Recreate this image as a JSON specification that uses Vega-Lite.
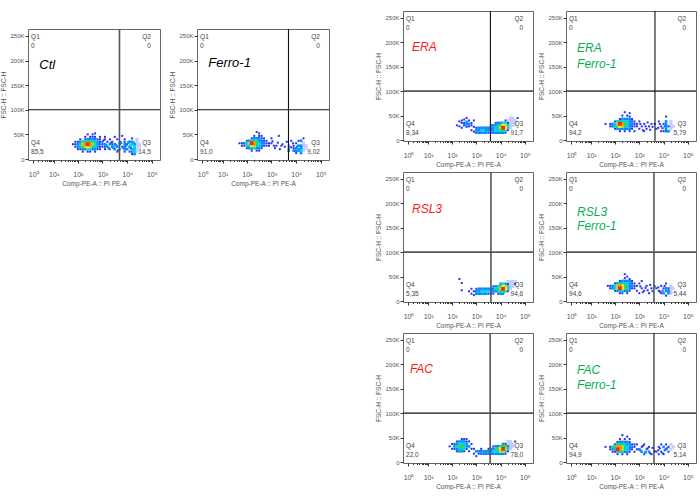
{"$schema":"https://vega.github.io/schema/vega-lite/v6.json","padding":{"left":0,"top":9,"right":0,"bottom":0},"background":"white","spacing":44,
"config":{"view":{"stroke":"#666","strokeWidth":1},"legend":{"disable":true},"axis":{"grid":false,"labelFont":"Liberation Sans","titleFont":"Liberation Sans","labelFontSize":6,"titleFontSize":6.5,"titleFontWeight":"normal","labelColor":"#555","titleColor":"#555","domain":false,"tickColor":"#333","labelOverlap":false,"labelBound":false,"labelFlush":false},"axisX":{"labelPadding":7,"titlePadding":3,"labelFontSize":7},"axisY":{"tickSize":3,"labelPadding":1,"titlePadding":3},"text":{"font":"Liberation Sans","fontSize":6.5,"color":"#444"},"square":{"filled":true,"opacity":1,"size":7},"rule":{"color":"#111","strokeWidth":1.1}},
"datasets":{
"ctl":[{"x":251,"y":50,"d":1},{"x":398,"y":50,"d":1},{"x":501,"y":52,"d":1},{"x":200,"y":45,"d":1},{"x":316,"y":45,"d":1},{"x":398,"y":45,"d":1},{"x":501,"y":45,"d":1},{"x":794,"y":45,"d":1},{"x":126,"y":40,"d":1},{"x":200,"y":40,"d":1},{"x":251,"y":40,"d":2},{"x":316,"y":40,"d":2},{"x":398,"y":40,"d":2},{"x":501,"y":40,"d":2},{"x":631,"y":40,"d":1},{"x":794,"y":40,"d":1},{"x":79,"y":35,"d":1},{"x":100,"y":35,"d":1},{"x":126,"y":35,"d":2},{"x":158,"y":35,"d":3},{"x":200,"y":35,"d":4},{"x":251,"y":35,"d":5},{"x":316,"y":35,"d":5},{"x":398,"y":35,"d":4},{"x":501,"y":35,"d":3},{"x":631,"y":35,"d":2},{"x":794,"y":35,"d":1},{"x":1000,"y":35,"d":1},{"x":63,"y":30,"d":1},{"x":79,"y":30,"d":1},{"x":100,"y":30,"d":2},{"x":126,"y":30,"d":4},{"x":158,"y":30,"d":6},{"x":200,"y":30,"d":8},{"x":251,"y":30,"d":9},{"x":316,"y":30,"d":8},{"x":398,"y":30,"d":6},{"x":501,"y":30,"d":4},{"x":631,"y":30,"d":2},{"x":794,"y":30,"d":2},{"x":1000,"y":30,"d":1},{"x":79,"y":25,"d":1},{"x":100,"y":25,"d":2},{"x":126,"y":25,"d":3},{"x":158,"y":25,"d":5},{"x":200,"y":25,"d":6},{"x":251,"y":25,"d":7},{"x":316,"y":25,"d":6},{"x":398,"y":25,"d":4},{"x":501,"y":25,"d":3},{"x":631,"y":25,"d":2},{"x":794,"y":25,"d":1},{"x":1000,"y":25,"d":1},{"x":1259,"y":25,"d":1},{"x":100,"y":20,"d":1},{"x":126,"y":20,"d":1},{"x":158,"y":20,"d":2},{"x":200,"y":20,"d":2},{"x":251,"y":20,"d":3},{"x":316,"y":20,"d":3},{"x":398,"y":20,"d":2},{"x":501,"y":20,"d":2},{"x":631,"y":20,"d":1},{"x":794,"y":20,"d":1},{"x":158,"y":15,"d":1},{"x":251,"y":15,"d":1},{"x":316,"y":15,"d":1},{"x":501,"y":15,"d":1},{"x":1259,"y":45,"d":1},{"x":3162,"y":45,"d":1},{"x":6310,"y":47,"d":1},{"x":1259,"y":40,"d":1},{"x":1995,"y":40,"d":1},{"x":3981,"y":40,"d":1},{"x":7943,"y":40,"d":1},{"x":15849,"y":42,"d":1},{"x":1585,"y":35,"d":1},{"x":2512,"y":35,"d":1},{"x":5012,"y":35,"d":1},{"x":7943,"y":35,"d":1},{"x":12589,"y":35,"d":2},{"x":15849,"y":35,"d":2},{"x":1259,"y":30,"d":2},{"x":1995,"y":30,"d":2},{"x":2512,"y":30,"d":1},{"x":3162,"y":30,"d":2},{"x":5012,"y":30,"d":2},{"x":7943,"y":30,"d":2},{"x":10000,"y":30,"d":1},{"x":15849,"y":30,"d":3},{"x":19953,"y":30,"d":2},{"x":1585,"y":25,"d":1},{"x":2512,"y":25,"d":2},{"x":3981,"y":25,"d":2},{"x":6310,"y":25,"d":1},{"x":7943,"y":25,"d":2},{"x":12589,"y":25,"d":2},{"x":19953,"y":25,"d":3},{"x":1259,"y":20,"d":1},{"x":1995,"y":20,"d":1},{"x":3162,"y":20,"d":2},{"x":5012,"y":20,"d":1},{"x":7943,"y":20,"d":2},{"x":10000,"y":20,"d":2},{"x":15849,"y":20,"d":2},{"x":19953,"y":20,"d":3},{"x":3981,"y":15,"d":1},{"x":7943,"y":15,"d":1},{"x":12589,"y":15,"d":1},{"x":15849,"y":15,"d":2},{"x":19953,"y":15,"d":3},{"x":19953,"y":10,"d":2},{"x":15849,"y":10,"d":1},{"x":25119,"y":15,"d":0},{"x":25119,"y":20,"d":0},{"x":25119,"y":25,"d":0},{"x":25119,"y":30,"d":0},{"x":25119,"y":35,"d":0},{"x":25119,"y":40,"d":0},{"x":31623,"y":25,"d":0},{"x":31623,"y":30,"d":0},{"x":1100,"y":38,"d":1},{"x":1400,"y":28,"d":2},{"x":1800,"y":22,"d":2},{"x":2200,"y":33,"d":1},{"x":2800,"y":23,"d":2},{"x":3500,"y":28,"d":2},{"x":4400,"y":18,"d":1},{"x":5600,"y":33,"d":2},{"x":7000,"y":23,"d":2},{"x":8900,"y":27,"d":2},{"x":11000,"y":33,"d":2},{"x":14000,"y":22,"d":2},{"x":14000,"y":28,"d":3},{"x":18000,"y":18,"d":3},{"x":18000,"y":33,"d":2}],
"fer":[{"x":251,"y":55,"d":1},{"x":316,"y":52,"d":1},{"x":200,"y":47,"d":1},{"x":316,"y":47,"d":1},{"x":398,"y":47,"d":1},{"x":158,"y":42,"d":1},{"x":200,"y":42,"d":2},{"x":251,"y":42,"d":2},{"x":316,"y":42,"d":2},{"x":398,"y":42,"d":1},{"x":501,"y":42,"d":1},{"x":100,"y":37,"d":1},{"x":126,"y":37,"d":2},{"x":158,"y":37,"d":4},{"x":200,"y":37,"d":4},{"x":251,"y":37,"d":3},{"x":316,"y":37,"d":2},{"x":398,"y":37,"d":2},{"x":501,"y":37,"d":1},{"x":631,"y":37,"d":1},{"x":50,"y":32,"d":1},{"x":63,"y":32,"d":1},{"x":79,"y":32,"d":2},{"x":100,"y":32,"d":3},{"x":126,"y":32,"d":6},{"x":158,"y":32,"d":9},{"x":200,"y":32,"d":8},{"x":251,"y":32,"d":5},{"x":316,"y":32,"d":3},{"x":398,"y":32,"d":2},{"x":501,"y":32,"d":2},{"x":631,"y":32,"d":1},{"x":794,"y":32,"d":1},{"x":63,"y":27,"d":1},{"x":79,"y":27,"d":1},{"x":100,"y":27,"d":3},{"x":126,"y":27,"d":4},{"x":158,"y":27,"d":7},{"x":200,"y":27,"d":6},{"x":251,"y":27,"d":4},{"x":316,"y":27,"d":3},{"x":398,"y":27,"d":2},{"x":501,"y":27,"d":1},{"x":631,"y":27,"d":1},{"x":100,"y":22,"d":1},{"x":126,"y":22,"d":2},{"x":158,"y":22,"d":2},{"x":200,"y":22,"d":3},{"x":251,"y":22,"d":2},{"x":316,"y":22,"d":2},{"x":398,"y":22,"d":1},{"x":158,"y":17,"d":1},{"x":251,"y":17,"d":1},{"x":316,"y":17,"d":1},{"x":1000,"y":42,"d":1},{"x":1995,"y":47,"d":1},{"x":794,"y":27,"d":1},{"x":1259,"y":27,"d":1},{"x":1000,"y":32,"d":1},{"x":1585,"y":27,"d":1},{"x":2512,"y":27,"d":1},{"x":5012,"y":27,"d":1},{"x":6310,"y":37,"d":1},{"x":10000,"y":32,"d":1},{"x":12589,"y":37,"d":1},{"x":15849,"y":37,"d":2},{"x":19953,"y":42,"d":1},{"x":7943,"y":27,"d":1},{"x":12589,"y":27,"d":2},{"x":15849,"y":27,"d":2},{"x":5012,"y":22,"d":1},{"x":7943,"y":22,"d":1},{"x":10000,"y":22,"d":2},{"x":15849,"y":22,"d":2},{"x":5012,"y":17,"d":2},{"x":7943,"y":17,"d":2},{"x":10000,"y":17,"d":2},{"x":12589,"y":17,"d":2},{"x":15849,"y":17,"d":3},{"x":10000,"y":12,"d":1},{"x":15849,"y":12,"d":2},{"x":19953,"y":17,"d":0},{"x":19953,"y":22,"d":0},{"x":19953,"y":27,"d":0},{"x":19953,"y":32,"d":0},{"x":25119,"y":22,"d":0},{"x":25119,"y":27,"d":0},{"x":1100,"y":36,"d":1},{"x":1400,"y":22,"d":1},{"x":1800,"y":33,"d":1},{"x":2200,"y":20,"d":1},{"x":2800,"y":30,"d":1},{"x":3500,"y":25,"d":1},{"x":4200,"y":35,"d":1},{"x":6300,"y":24,"d":1},{"x":7500,"y":32,"d":1},{"x":11000,"y":25,"d":1},{"x":13000,"y":20,"d":2}],
"era":[{"x":158,"y":30,"d":1},{"x":200,"y":38,"d":1},{"x":200,"y":28,"d":1},{"x":251,"y":40,"d":1},{"x":251,"y":35,"d":1},{"x":251,"y":25,"d":1},{"x":316,"y":42,"d":1},{"x":316,"y":35,"d":1},{"x":316,"y":30,"d":2},{"x":398,"y":45,"d":1},{"x":398,"y":37,"d":2},{"x":398,"y":32,"d":2},{"x":398,"y":27,"d":1},{"x":501,"y":40,"d":1},{"x":501,"y":33,"d":2},{"x":501,"y":28,"d":1},{"x":631,"y":35,"d":1},{"x":631,"y":30,"d":1},{"x":631,"y":20,"d":1},{"x":794,"y":40,"d":1},{"x":794,"y":27,"d":1},{"x":794,"y":17,"d":1},{"x":1000,"y":25,"d":1},{"x":1000,"y":20,"d":2},{"x":1000,"y":15,"d":2},{"x":1259,"y":25,"d":2},{"x":1259,"y":20,"d":2},{"x":1259,"y":15,"d":2},{"x":1585,"y":25,"d":2},{"x":1585,"y":20,"d":3},{"x":1585,"y":15,"d":2},{"x":1995,"y":25,"d":2},{"x":1995,"y":20,"d":3},{"x":1995,"y":15,"d":2},{"x":2512,"y":25,"d":2},{"x":2512,"y":20,"d":2},{"x":2512,"y":15,"d":2},{"x":3162,"y":25,"d":2},{"x":3162,"y":20,"d":2},{"x":3162,"y":15,"d":1},{"x":3981,"y":30,"d":1},{"x":3981,"y":25,"d":2},{"x":3981,"y":20,"d":2},{"x":3981,"y":15,"d":1},{"x":5012,"y":30,"d":2},{"x":5012,"y":25,"d":2},{"x":5012,"y":20,"d":2},{"x":5012,"y":15,"d":2},{"x":6310,"y":35,"d":1},{"x":6310,"y":30,"d":2},{"x":6310,"y":25,"d":3},{"x":6310,"y":20,"d":3},{"x":6310,"y":15,"d":2},{"x":7943,"y":35,"d":2},{"x":7943,"y":30,"d":3},{"x":7943,"y":25,"d":4},{"x":7943,"y":20,"d":3},{"x":7943,"y":15,"d":2},{"x":10000,"y":35,"d":2},{"x":10000,"y":30,"d":5},{"x":10000,"y":25,"d":6},{"x":10000,"y":20,"d":4},{"x":10000,"y":15,"d":2},{"x":12589,"y":35,"d":3},{"x":12589,"y":30,"d":7},{"x":12589,"y":25,"d":9},{"x":12589,"y":20,"d":5},{"x":12589,"y":15,"d":2},{"x":15849,"y":40,"d":1},{"x":15849,"y":35,"d":3},{"x":15849,"y":30,"d":6},{"x":15849,"y":25,"d":7},{"x":15849,"y":20,"d":3},{"x":15849,"y":15,"d":1},{"x":19953,"y":40,"d":0},{"x":19953,"y":35,"d":1},{"x":19953,"y":30,"d":3},{"x":19953,"y":25,"d":3},{"x":19953,"y":20,"d":1},{"x":25119,"y":45,"d":0},{"x":25119,"y":40,"d":0},{"x":25119,"y":35,"d":0},{"x":25119,"y":30,"d":0},{"x":25119,"y":25,"d":0},{"x":31623,"y":45,"d":0},{"x":31623,"y":40,"d":0},{"x":31623,"y":35,"d":0},{"x":31623,"y":30,"d":0},{"x":39811,"y":40,"d":0},{"x":39811,"y":35,"d":0},{"x":50119,"y":45,"d":1}],
"erf":[{"x":251,"y":57,"d":1},{"x":398,"y":55,"d":1},{"x":200,"y":50,"d":1},{"x":316,"y":50,"d":1},{"x":398,"y":48,"d":1},{"x":158,"y":43,"d":1},{"x":200,"y":43,"d":2},{"x":251,"y":43,"d":2},{"x":316,"y":43,"d":2},{"x":398,"y":43,"d":2},{"x":501,"y":43,"d":1},{"x":100,"y":38,"d":1},{"x":126,"y":38,"d":3},{"x":158,"y":38,"d":4},{"x":200,"y":38,"d":4},{"x":251,"y":38,"d":3},{"x":316,"y":38,"d":3},{"x":398,"y":38,"d":2},{"x":501,"y":38,"d":2},{"x":631,"y":38,"d":1},{"x":40,"y":33,"d":1},{"x":63,"y":33,"d":1},{"x":79,"y":33,"d":2},{"x":100,"y":33,"d":3},{"x":126,"y":33,"d":6},{"x":158,"y":33,"d":9},{"x":200,"y":33,"d":8},{"x":251,"y":33,"d":5},{"x":316,"y":33,"d":3},{"x":398,"y":33,"d":2},{"x":501,"y":33,"d":2},{"x":631,"y":33,"d":1},{"x":794,"y":33,"d":1},{"x":63,"y":28,"d":1},{"x":79,"y":28,"d":2},{"x":100,"y":28,"d":3},{"x":126,"y":28,"d":5},{"x":158,"y":28,"d":7},{"x":200,"y":28,"d":6},{"x":251,"y":28,"d":4},{"x":316,"y":28,"d":3},{"x":398,"y":28,"d":2},{"x":501,"y":28,"d":1},{"x":631,"y":28,"d":1},{"x":794,"y":28,"d":1},{"x":100,"y":23,"d":1},{"x":126,"y":23,"d":2},{"x":158,"y":23,"d":2},{"x":200,"y":23,"d":2},{"x":251,"y":23,"d":2},{"x":316,"y":23,"d":2},{"x":398,"y":23,"d":2},{"x":501,"y":23,"d":1},{"x":158,"y":18,"d":1},{"x":251,"y":18,"d":1},{"x":398,"y":18,"d":1},{"x":631,"y":18,"d":1},{"x":1000,"y":38,"d":1},{"x":1259,"y":28,"d":1},{"x":1000,"y":23,"d":1},{"x":1585,"y":33,"d":1},{"x":1995,"y":23,"d":1},{"x":2512,"y":28,"d":1},{"x":3162,"y":33,"d":1},{"x":1585,"y":18,"d":1},{"x":6310,"y":38,"d":1},{"x":12589,"y":48,"d":1},{"x":10000,"y":33,"d":1},{"x":12589,"y":38,"d":2},{"x":12589,"y":33,"d":2},{"x":12589,"y":28,"d":2},{"x":12589,"y":23,"d":2},{"x":12589,"y":18,"d":2},{"x":7943,"y":28,"d":1},{"x":7943,"y":18,"d":1},{"x":5012,"y":23,"d":1},{"x":10000,"y":18,"d":1},{"x":15849,"y":28,"d":1},{"x":15849,"y":18,"d":2},{"x":19953,"y":38,"d":0},{"x":19953,"y":33,"d":0},{"x":19953,"y":28,"d":0},{"x":19953,"y":23,"d":0},{"x":25119,"y":28,"d":0},{"x":1100,"y":33,"d":1},{"x":1400,"y":20,"d":1},{"x":1800,"y":28,"d":1},{"x":2200,"y":36,"d":1},{"x":2800,"y":21,"d":1},{"x":3500,"y":27,"d":1},{"x":4300,"y":33,"d":1},{"x":6000,"y":25,"d":1},{"x":7000,"y":33,"d":1},{"x":9000,"y":24,"d":1},{"x":11000,"y":28,"d":1}],
"rsl":[{"x":200,"y":45,"d":1},{"x":251,"y":37,"d":1},{"x":251,"y":22,"d":1},{"x":501,"y":20,"d":1},{"x":631,"y":25,"d":1},{"x":631,"y":15,"d":1},{"x":794,"y":20,"d":1},{"x":794,"y":12,"d":1},{"x":1000,"y":25,"d":1},{"x":1000,"y":20,"d":2},{"x":1000,"y":15,"d":2},{"x":1259,"y":25,"d":2},{"x":1259,"y":20,"d":2},{"x":1259,"y":15,"d":2},{"x":1585,"y":25,"d":2},{"x":1585,"y":20,"d":3},{"x":1585,"y":15,"d":2},{"x":1995,"y":25,"d":2},{"x":1995,"y":20,"d":3},{"x":1995,"y":15,"d":2},{"x":2512,"y":25,"d":2},{"x":2512,"y":20,"d":3},{"x":2512,"y":15,"d":2},{"x":3162,"y":25,"d":2},{"x":3162,"y":20,"d":3},{"x":3162,"y":15,"d":1},{"x":3981,"y":25,"d":2},{"x":3981,"y":20,"d":3},{"x":3981,"y":15,"d":1},{"x":5012,"y":30,"d":1},{"x":5012,"y":25,"d":2},{"x":5012,"y":20,"d":2},{"x":5012,"y":15,"d":1},{"x":6310,"y":30,"d":2},{"x":6310,"y":25,"d":3},{"x":6310,"y":20,"d":2},{"x":7943,"y":30,"d":3},{"x":7943,"y":25,"d":4},{"x":7943,"y":20,"d":3},{"x":7943,"y":15,"d":1},{"x":10000,"y":35,"d":2},{"x":10000,"y":30,"d":5},{"x":10000,"y":25,"d":6},{"x":10000,"y":20,"d":4},{"x":10000,"y":15,"d":2},{"x":12589,"y":35,"d":3},{"x":12589,"y":30,"d":7},{"x":12589,"y":25,"d":9},{"x":12589,"y":20,"d":5},{"x":12589,"y":15,"d":2},{"x":15849,"y":35,"d":2},{"x":15849,"y":30,"d":6},{"x":15849,"y":25,"d":7},{"x":15849,"y":20,"d":3},{"x":19953,"y":40,"d":0},{"x":19953,"y":35,"d":1},{"x":19953,"y":30,"d":3},{"x":19953,"y":25,"d":3},{"x":19953,"y":20,"d":1},{"x":25119,"y":40,"d":0},{"x":25119,"y":35,"d":0},{"x":25119,"y":30,"d":0},{"x":25119,"y":25,"d":0},{"x":31623,"y":40,"d":0},{"x":31623,"y":35,"d":0},{"x":31623,"y":30,"d":0},{"x":39811,"y":40,"d":0},{"x":39811,"y":35,"d":1}],
"rsf":[{"x":251,"y":55,"d":1},{"x":316,"y":50,"d":1},{"x":251,"y":47,"d":1},{"x":398,"y":45,"d":1},{"x":158,"y":41,"d":1},{"x":200,"y":41,"d":2},{"x":251,"y":41,"d":2},{"x":316,"y":41,"d":2},{"x":398,"y":41,"d":2},{"x":501,"y":41,"d":1},{"x":100,"y":36,"d":1},{"x":126,"y":36,"d":2},{"x":158,"y":36,"d":4},{"x":200,"y":36,"d":4},{"x":251,"y":36,"d":3},{"x":316,"y":36,"d":3},{"x":398,"y":36,"d":2},{"x":501,"y":36,"d":1},{"x":631,"y":36,"d":1},{"x":50,"y":31,"d":1},{"x":63,"y":31,"d":1},{"x":79,"y":31,"d":2},{"x":100,"y":31,"d":3},{"x":126,"y":31,"d":6},{"x":158,"y":31,"d":8},{"x":200,"y":31,"d":7},{"x":251,"y":31,"d":5},{"x":316,"y":31,"d":4},{"x":398,"y":31,"d":2},{"x":501,"y":31,"d":2},{"x":631,"y":31,"d":1},{"x":794,"y":31,"d":1},{"x":63,"y":26,"d":1},{"x":79,"y":26,"d":2},{"x":100,"y":26,"d":3},{"x":126,"y":26,"d":6},{"x":158,"y":26,"d":9},{"x":200,"y":26,"d":7},{"x":251,"y":26,"d":5},{"x":316,"y":26,"d":3},{"x":398,"y":26,"d":2},{"x":501,"y":26,"d":1},{"x":631,"y":26,"d":1},{"x":100,"y":21,"d":1},{"x":126,"y":21,"d":2},{"x":158,"y":21,"d":3},{"x":200,"y":21,"d":3},{"x":251,"y":21,"d":2},{"x":316,"y":21,"d":2},{"x":398,"y":21,"d":1},{"x":158,"y":16,"d":1},{"x":200,"y":16,"d":1},{"x":316,"y":16,"d":1},{"x":794,"y":21,"d":1},{"x":1000,"y":36,"d":1},{"x":1259,"y":26,"d":1},{"x":1000,"y":16,"d":1},{"x":1585,"y":21,"d":1},{"x":1995,"y":31,"d":1},{"x":2512,"y":16,"d":1},{"x":3162,"y":26,"d":1},{"x":1259,"y":41,"d":1},{"x":5012,"y":26,"d":1},{"x":6310,"y":21,"d":1},{"x":7943,"y":31,"d":1},{"x":10000,"y":26,"d":1},{"x":10000,"y":16,"d":2},{"x":12589,"y":21,"d":2},{"x":12589,"y":26,"d":2},{"x":12589,"y":36,"d":1},{"x":15849,"y":16,"d":2},{"x":15849,"y":21,"d":2},{"x":15849,"y":26,"d":1},{"x":7943,"y":16,"d":1},{"x":12589,"y":11,"d":1},{"x":19953,"y":16,"d":0},{"x":19953,"y":21,"d":0},{"x":19953,"y":26,"d":0},{"x":19953,"y":31,"d":0},{"x":25119,"y":26,"d":0},{"x":1100,"y":30,"d":1},{"x":1400,"y":18,"d":1},{"x":1800,"y":27,"d":1},{"x":2200,"y":22,"d":1},{"x":2800,"y":33,"d":1},{"x":3500,"y":20,"d":1},{"x":4300,"y":30,"d":1},{"x":6000,"y":28,"d":1},{"x":7000,"y":19,"d":1},{"x":9000,"y":21,"d":1},{"x":11000,"y":31,"d":1}],
"fac":[{"x":79,"y":32,"d":1},{"x":100,"y":37,"d":1},{"x":100,"y":27,"d":1},{"x":126,"y":37,"d":1},{"x":126,"y":32,"d":2},{"x":126,"y":27,"d":1},{"x":158,"y":42,"d":1},{"x":158,"y":37,"d":2},{"x":158,"y":32,"d":3},{"x":158,"y":27,"d":2},{"x":158,"y":22,"d":1},{"x":200,"y":42,"d":2},{"x":200,"y":37,"d":3},{"x":200,"y":32,"d":5},{"x":200,"y":27,"d":4},{"x":200,"y":22,"d":2},{"x":251,"y":47,"d":1},{"x":251,"y":42,"d":2},{"x":251,"y":37,"d":3},{"x":251,"y":32,"d":5},{"x":251,"y":27,"d":4},{"x":251,"y":22,"d":2},{"x":316,"y":47,"d":1},{"x":316,"y":42,"d":2},{"x":316,"y":37,"d":3},{"x":316,"y":32,"d":3},{"x":316,"y":27,"d":3},{"x":316,"y":22,"d":1},{"x":398,"y":47,"d":1},{"x":398,"y":42,"d":1},{"x":398,"y":37,"d":2},{"x":398,"y":32,"d":2},{"x":398,"y":27,"d":1},{"x":501,"y":42,"d":1},{"x":501,"y":32,"d":2},{"x":501,"y":22,"d":1},{"x":631,"y":37,"d":1},{"x":631,"y":27,"d":1},{"x":794,"y":27,"d":1},{"x":794,"y":17,"d":1},{"x":1000,"y":22,"d":2},{"x":1000,"y":12,"d":1},{"x":1259,"y":22,"d":2},{"x":1259,"y":17,"d":1},{"x":1585,"y":27,"d":1},{"x":1585,"y":22,"d":2},{"x":1585,"y":17,"d":1},{"x":1995,"y":22,"d":2},{"x":1995,"y":17,"d":2},{"x":2512,"y":22,"d":2},{"x":2512,"y":17,"d":2},{"x":3162,"y":27,"d":1},{"x":3162,"y":22,"d":2},{"x":3162,"y":17,"d":2},{"x":3981,"y":27,"d":2},{"x":3981,"y":22,"d":2},{"x":3981,"y":17,"d":1},{"x":5012,"y":32,"d":1},{"x":5012,"y":27,"d":2},{"x":5012,"y":22,"d":3},{"x":5012,"y":17,"d":2},{"x":6310,"y":32,"d":2},{"x":6310,"y":27,"d":3},{"x":6310,"y":22,"d":3},{"x":6310,"y":17,"d":2},{"x":7943,"y":32,"d":2},{"x":7943,"y":27,"d":5},{"x":7943,"y":22,"d":4},{"x":7943,"y":17,"d":2},{"x":10000,"y":32,"d":4},{"x":10000,"y":27,"d":7},{"x":10000,"y":22,"d":6},{"x":10000,"y":17,"d":2},{"x":12589,"y":37,"d":2},{"x":12589,"y":32,"d":5},{"x":12589,"y":27,"d":9},{"x":12589,"y":22,"d":6},{"x":12589,"y":17,"d":2},{"x":15849,"y":37,"d":1},{"x":15849,"y":32,"d":5},{"x":15849,"y":27,"d":6},{"x":15849,"y":22,"d":3},{"x":15849,"y":17,"d":1},{"x":19953,"y":42,"d":0},{"x":19953,"y":37,"d":0},{"x":19953,"y":32,"d":2},{"x":19953,"y":27,"d":3},{"x":19953,"y":22,"d":1},{"x":25119,"y":42,"d":0},{"x":25119,"y":37,"d":0},{"x":25119,"y":32,"d":0},{"x":25119,"y":27,"d":0},{"x":31623,"y":37,"d":0},{"x":31623,"y":32,"d":0},{"x":39811,"y":42,"d":1}],
"faf":[{"x":200,"y":55,"d":1},{"x":316,"y":52,"d":1},{"x":158,"y":47,"d":1},{"x":251,"y":47,"d":1},{"x":398,"y":47,"d":1},{"x":126,"y":41,"d":1},{"x":158,"y":41,"d":2},{"x":200,"y":41,"d":2},{"x":251,"y":41,"d":2},{"x":316,"y":41,"d":2},{"x":398,"y":41,"d":1},{"x":100,"y":36,"d":2},{"x":126,"y":36,"d":3},{"x":158,"y":36,"d":4},{"x":200,"y":36,"d":4},{"x":251,"y":36,"d":3},{"x":316,"y":36,"d":2},{"x":398,"y":36,"d":2},{"x":501,"y":36,"d":1},{"x":631,"y":36,"d":1},{"x":40,"y":31,"d":1},{"x":63,"y":31,"d":1},{"x":79,"y":31,"d":3},{"x":100,"y":31,"d":5},{"x":126,"y":31,"d":8},{"x":158,"y":31,"d":8},{"x":200,"y":31,"d":6},{"x":251,"y":31,"d":4},{"x":316,"y":31,"d":3},{"x":398,"y":31,"d":2},{"x":501,"y":31,"d":2},{"x":631,"y":31,"d":1},{"x":63,"y":26,"d":1},{"x":79,"y":26,"d":2},{"x":100,"y":26,"d":4},{"x":126,"y":26,"d":9},{"x":158,"y":26,"d":8},{"x":200,"y":26,"d":6},{"x":251,"y":26,"d":4},{"x":316,"y":26,"d":3},{"x":398,"y":26,"d":2},{"x":501,"y":26,"d":1},{"x":794,"y":26,"d":1},{"x":79,"y":21,"d":1},{"x":100,"y":21,"d":1},{"x":126,"y":21,"d":3},{"x":158,"y":21,"d":3},{"x":200,"y":21,"d":3},{"x":251,"y":21,"d":2},{"x":316,"y":21,"d":2},{"x":398,"y":21,"d":1},{"x":126,"y":16,"d":1},{"x":200,"y":16,"d":1},{"x":316,"y":16,"d":1},{"x":631,"y":21,"d":1},{"x":794,"y":36,"d":1},{"x":1000,"y":26,"d":2},{"x":1259,"y":31,"d":1},{"x":1259,"y":21,"d":2},{"x":1585,"y":36,"d":1},{"x":1585,"y":16,"d":1},{"x":1995,"y":26,"d":1},{"x":2512,"y":21,"d":2},{"x":2512,"y":31,"d":1},{"x":3162,"y":16,"d":1},{"x":5012,"y":21,"d":1},{"x":6310,"y":31,"d":1},{"x":6310,"y":16,"d":1},{"x":7943,"y":36,"d":1},{"x":7943,"y":21,"d":1},{"x":10000,"y":31,"d":2},{"x":10000,"y":16,"d":1},{"x":12589,"y":26,"d":2},{"x":12589,"y":36,"d":1},{"x":15849,"y":31,"d":1},{"x":15849,"y":21,"d":1},{"x":19953,"y":36,"d":0},{"x":19953,"y":26,"d":0},{"x":25119,"y":31,"d":0},{"x":1100,"y":24,"d":1},{"x":1400,"y":33,"d":1},{"x":1800,"y":20,"d":2},{"x":2200,"y":28,"d":1},{"x":2800,"y":18,"d":1},{"x":3500,"y":29,"d":1},{"x":4300,"y":22,"d":1},{"x":6000,"y":24,"d":1},{"x":7000,"y":28,"d":1},{"x":9000,"y":18,"d":1},{"x":11000,"y":24,"d":1},{"x":14000,"y":28,"d":1}]
},
"hconcat":[
{"spacing":8,"vconcat":[
{"width":1,"height":8,"view":{"stroke":null},"data":{"values":[{"x":1}]},"mark":{"type":"point","opacity":0},"encoding":{"x":{"field":"x","type":"quantitative","axis":null}}},
{"spacing":7,"hconcat":[
{"width":132,"height":131,"encoding":{"x":{"field":"x","type":"quantitative","title":"Comp-PE-A :: PI PE-A","scale":{"type":"symlog","constant":0.55,"domain":[0.41,215000],"nice":false,"zero":false},"axis":{"values":[1,2,3,4,5,6,7,8,9,10,20,30,40,50,60,70,80,90,100,200,300,400,500,600,700,800,900,1000,2000,3000,4000,5000,6000,7000,8000,9000,10000,20000,30000,40000,50000,60000,70000,80000,90000,100000],"tickSize":{"condition":{"test":"indexof([1,10,100,1000,10000,100000],datum.value)>=0","value":3},"value":1.5},"labelExpr":"datum.value==1?'10⁰':datum.value==10?'10¹':datum.value==100?'10²':datum.value==1000?'10³':datum.value==10000?'10⁴':datum.value==100000?'10⁵':''"}},"y":{"field":"y","type":"quantitative","title":"FSC-H :: FSC-H","scale":{"domain":[-2,264],"nice":false,"zero":false},"axis":{"values":[0,50,100,150,200,250],"labelExpr":"datum.value==0?'0':datum.value+'K'"}}},
"layer":[
{"data":{"name":"ctl"},"mark":"square","encoding":{"color":{"field":"d","type":"quantitative","scale":{"domain":[0,1,3,5,7,9],"range":["#c4ceff","#2430f0","#14c8e8","#30d84a","#f2e62a","#f02a1a"]}},"size":{"field":"d","type":"quantitative","scale":{"domain":[0,1,2,5],"range":[10,4,7,10]}},"order":{"field":"d"}}},
{"data":{"values":[{"x":0.41,"x2":215000,"y":100}]},"mark":{"type":"rule"},"encoding":{"x2":{"field":"x2"}}},
{"data":{"values":[{"x":4900,"y":-2,"y2":264}]},"mark":{"type":"rule","color":"#555","strokeWidth":1.6},"encoding":{"y2":{"field":"y2"}}},
{"data":{"values":[{"x":0.73,"y":248,"t":"Q1"},{"x":0.73,"y":229,"t":"0"},{"x":0.73,"y":33,"t":"Q4"},{"x":0.73,"y":15,"t":"85,5"}]},"mark":{"type":"text","align":"left"},"encoding":{"text":{"field":"t"}}},
{"data":{"values":[{"x":92000,"y":248,"t":"Q2"},{"x":92000,"y":229,"t":"0"},{"x":92000,"y":33,"t":"Q3"},{"x":92000,"y":15,"t":"14,5"}]},"mark":{"type":"text","align":"right"},"encoding":{"text":{"field":"t"}}},
{"data":{"values":[{"x":2.2,"y":190,"t":"Ctl"}]},"mark":{"type":"text","align":"left","fontStyle":"italic","fontSize":13,"color":"#000"},"encoding":{"text":{"field":"t"}}}
]},
{"width":132,"height":131,"encoding":{"x":{"field":"x","type":"quantitative","title":"Comp-PE-A :: PI PE-A","scale":{"type":"symlog","constant":0.55,"domain":[0.41,215000],"nice":false,"zero":false},"axis":{"values":[1,2,3,4,5,6,7,8,9,10,20,30,40,50,60,70,80,90,100,200,300,400,500,600,700,800,900,1000,2000,3000,4000,5000,6000,7000,8000,9000,10000,20000,30000,40000,50000,60000,70000,80000,90000,100000],"tickSize":{"condition":{"test":"indexof([1,10,100,1000,10000,100000],datum.value)>=0","value":3},"value":1.5},"labelExpr":"datum.value==1?'10⁰':datum.value==10?'10¹':datum.value==100?'10²':datum.value==1000?'10³':datum.value==10000?'10⁴':datum.value==100000?'10⁵':''"}},"y":{"field":"y","type":"quantitative","title":"FSC-H :: FSC-H","scale":{"domain":[-2,264],"nice":false,"zero":false},"axis":{"values":[0,50,100,150,200,250],"labelExpr":"datum.value==0?'0':datum.value+'K'"}}},
"layer":[
{"data":{"name":"fer"},"mark":"square","encoding":{"color":{"field":"d","type":"quantitative"},"size":{"field":"d","type":"quantitative"},"order":{"field":"d"}}},
{"data":{"values":[{"x":0.41,"x2":215000,"y":100}]},"mark":{"type":"rule"},"encoding":{"x2":{"field":"x2"}}},
{"data":{"values":[{"x":4900,"y":-2,"y2":264}]},"mark":{"type":"rule"},"encoding":{"y2":{"field":"y2"}}},
{"data":{"values":[{"x":0.73,"y":248,"t":"Q1"},{"x":0.73,"y":229,"t":"0"},{"x":0.73,"y":33,"t":"Q4"},{"x":0.73,"y":15,"t":"91,0"}]},"mark":{"type":"text","align":"left"},"encoding":{"text":{"field":"t"}}},
{"data":{"values":[{"x":92000,"y":248,"t":"Q2"},{"x":92000,"y":229,"t":"0"},{"x":92000,"y":33,"t":"Q3"},{"x":92000,"y":15,"t":"9,02"}]},"mark":{"type":"text","align":"right"},"encoding":{"text":{"field":"t"}}},
{"data":{"values":[{"x":2.2,"y":194,"t":"Ferro-1"}]},"mark":{"type":"text","align":"left","fontStyle":"italic","fontSize":13,"color":"#000"},"encoding":{"text":{"field":"t"}}}
]}
]}]},
{"spacing":2,"vconcat":[
{"spacing":3,"hconcat":[
{"width":130,"height":130,"encoding":{"x":{"field":"x","type":"quantitative","title":"Comp-PE-A :: PI PE-A","scale":{"type":"symlog","constant":0.55,"domain":[0.41,215000],"nice":false,"zero":false},"axis":{"values":[1,2,3,4,5,6,7,8,9,10,20,30,40,50,60,70,80,90,100,200,300,400,500,600,700,800,900,1000,2000,3000,4000,5000,6000,7000,8000,9000,10000,20000,30000,40000,50000,60000,70000,80000,90000,100000],"tickSize":{"condition":{"test":"indexof([1,10,100,1000,10000,100000],datum.value)>=0","value":3},"value":1.5},"labelExpr":"datum.value==1?'10⁰':datum.value==10?'10¹':datum.value==100?'10²':datum.value==1000?'10³':datum.value==10000?'10⁴':datum.value==100000?'10⁵':''"}},"y":{"field":"y","type":"quantitative","title":"FSC-H :: FSC-H","scale":{"domain":[-2,264],"nice":false,"zero":false},"axis":{"values":[0,50,100,150,200,250],"labelExpr":"datum.value==0?'0':datum.value+'K'"}}},
"layer":[
{"data":{"name":"era"},"mark":"square","encoding":{"color":{"field":"d","type":"quantitative"},"size":{"field":"d","type":"quantitative"},"order":{"field":"d"}}},
{"data":{"values":[{"x":0.41,"x2":215000,"y":100}]},"mark":{"type":"rule","color":"#555","strokeWidth":1.6},"encoding":{"x2":{"field":"x2"}}},
{"data":{"values":[{"x":3800,"y":-2,"y2":264}]},"mark":{"type":"rule"},"encoding":{"y2":{"field":"y2"}}},
{"data":{"values":[{"x":0.73,"y":248,"t":"Q1"},{"x":0.73,"y":229,"t":"0"},{"x":0.73,"y":33,"t":"Q4"},{"x":0.73,"y":15,"t":"8,34"}]},"mark":{"type":"text","align":"left"},"encoding":{"text":{"field":"t"}}},
{"data":{"values":[{"x":85000,"y":248,"t":"Q2"},{"x":85000,"y":229,"t":"0"},{"x":85000,"y":33,"t":"Q3"},{"x":85000,"y":15,"t":"91,7"}]},"mark":{"type":"text","align":"right"},"encoding":{"text":{"field":"t"}}},
{"data":{"values":[{"x":1.7,"y":190,"t":"ERA"}]},"mark":{"type":"text","align":"left","fontStyle":"italic","fontSize":12,"color":"#ff1a1a"},"encoding":{"text":{"field":"t"}}}
]},
{"width":130,"height":130,"encoding":{"x":{"field":"x","type":"quantitative","title":"Comp-PE-A :: PI PE-A","scale":{"type":"symlog","constant":0.55,"domain":[0.41,215000],"nice":false,"zero":false},"axis":{"values":[1,2,3,4,5,6,7,8,9,10,20,30,40,50,60,70,80,90,100,200,300,400,500,600,700,800,900,1000,2000,3000,4000,5000,6000,7000,8000,9000,10000,20000,30000,40000,50000,60000,70000,80000,90000,100000],"tickSize":{"condition":{"test":"indexof([1,10,100,1000,10000,100000],datum.value)>=0","value":3},"value":1.5},"labelExpr":"datum.value==1?'10⁰':datum.value==10?'10¹':datum.value==100?'10²':datum.value==1000?'10³':datum.value==10000?'10⁴':datum.value==100000?'10⁵':''"}},"y":{"field":"y","type":"quantitative","title":"FSC-H :: FSC-H","scale":{"domain":[-2,264],"nice":false,"zero":false},"axis":{"values":[0,50,100,150,200,250],"labelExpr":"datum.value==0?'0':datum.value+'K'"}}},
"layer":[
{"data":{"name":"erf"},"mark":"square","encoding":{"color":{"field":"d","type":"quantitative"},"size":{"field":"d","type":"quantitative"},"order":{"field":"d"}}},
{"data":{"values":[{"x":0.41,"x2":215000,"y":100}]},"mark":{"type":"rule","color":"#555","strokeWidth":1.6},"encoding":{"x2":{"field":"x2"}}},
{"data":{"values":[{"x":4400,"y":-2,"y2":264}]},"mark":{"type":"rule"},"encoding":{"y2":{"field":"y2"}}},
{"data":{"values":[{"x":0.73,"y":248,"t":"Q1"},{"x":0.73,"y":229,"t":"0"},{"x":0.73,"y":33,"t":"Q4"},{"x":0.73,"y":15,"t":"94,2"}]},"mark":{"type":"text","align":"left"},"encoding":{"text":{"field":"t"}}},
{"data":{"values":[{"x":85000,"y":248,"t":"Q2"},{"x":85000,"y":229,"t":"0"},{"x":85000,"y":33,"t":"Q3"},{"x":85000,"y":15,"t":"5,79"}]},"mark":{"type":"text","align":"right"},"encoding":{"text":{"field":"t"}}},
{"data":{"values":[{"x":2.2,"y":188,"t":"ERA"},{"x":2.2,"y":156,"t":"Ferro-1"}]},"mark":{"type":"text","align":"left","fontStyle":"italic","fontSize":12,"color":"#00b050"},"encoding":{"text":{"field":"t"}}}
]}
]},
{"spacing":3,"hconcat":[
{"width":130,"height":130,"encoding":{"x":{"field":"x","type":"quantitative","title":"Comp-PE-A :: PI PE-A","scale":{"type":"symlog","constant":0.55,"domain":[0.41,215000],"nice":false,"zero":false},"axis":{"values":[1,2,3,4,5,6,7,8,9,10,20,30,40,50,60,70,80,90,100,200,300,400,500,600,700,800,900,1000,2000,3000,4000,5000,6000,7000,8000,9000,10000,20000,30000,40000,50000,60000,70000,80000,90000,100000],"tickSize":{"condition":{"test":"indexof([1,10,100,1000,10000,100000],datum.value)>=0","value":3},"value":1.5},"labelExpr":"datum.value==1?'10⁰':datum.value==10?'10¹':datum.value==100?'10²':datum.value==1000?'10³':datum.value==10000?'10⁴':datum.value==100000?'10⁵':''"}},"y":{"field":"y","type":"quantitative","title":"FSC-H :: FSC-H","scale":{"domain":[-2,264],"nice":false,"zero":false},"axis":{"values":[0,50,100,150,200,250],"labelExpr":"datum.value==0?'0':datum.value+'K'"}}},
"layer":[
{"data":{"name":"rsl"},"mark":"square","encoding":{"color":{"field":"d","type":"quantitative"},"size":{"field":"d","type":"quantitative"},"order":{"field":"d"}}},
{"data":{"values":[{"x":0.41,"x2":215000,"y":100}]},"mark":{"type":"rule","color":"#555","strokeWidth":1.6},"encoding":{"x2":{"field":"x2"}}},
{"data":{"values":[{"x":4000,"y":-2,"y2":264}]},"mark":{"type":"rule","color":"#555","strokeWidth":1.6},"encoding":{"y2":{"field":"y2"}}},
{"data":{"values":[{"x":0.73,"y":248,"t":"Q1"},{"x":0.73,"y":229,"t":"0"},{"x":0.73,"y":33,"t":"Q4"},{"x":0.73,"y":15,"t":"5,35"}]},"mark":{"type":"text","align":"left"},"encoding":{"text":{"field":"t"}}},
{"data":{"values":[{"x":85000,"y":248,"t":"Q2"},{"x":85000,"y":229,"t":"0"},{"x":85000,"y":33,"t":"Q3"},{"x":85000,"y":15,"t":"94,6"}]},"mark":{"type":"text","align":"right"},"encoding":{"text":{"field":"t"}}},
{"data":{"values":[{"x":1.7,"y":188,"t":"RSL3"}]},"mark":{"type":"text","align":"left","fontStyle":"italic","fontSize":12,"color":"#ff1a1a"},"encoding":{"text":{"field":"t"}}}
]},
{"width":130,"height":130,"encoding":{"x":{"field":"x","type":"quantitative","title":"Comp-PE-A :: PI PE-A","scale":{"type":"symlog","constant":0.55,"domain":[0.41,215000],"nice":false,"zero":false},"axis":{"values":[1,2,3,4,5,6,7,8,9,10,20,30,40,50,60,70,80,90,100,200,300,400,500,600,700,800,900,1000,2000,3000,4000,5000,6000,7000,8000,9000,10000,20000,30000,40000,50000,60000,70000,80000,90000,100000],"tickSize":{"condition":{"test":"indexof([1,10,100,1000,10000,100000],datum.value)>=0","value":3},"value":1.5},"labelExpr":"datum.value==1?'10⁰':datum.value==10?'10¹':datum.value==100?'10²':datum.value==1000?'10³':datum.value==10000?'10⁴':datum.value==100000?'10⁵':''"}},"y":{"field":"y","type":"quantitative","title":"FSC-H :: FSC-H","scale":{"domain":[-2,264],"nice":false,"zero":false},"axis":{"values":[0,50,100,150,200,250],"labelExpr":"datum.value==0?'0':datum.value+'K'"}}},
"layer":[
{"data":{"name":"rsf"},"mark":"square","encoding":{"color":{"field":"d","type":"quantitative"},"size":{"field":"d","type":"quantitative"},"order":{"field":"d"}}},
{"data":{"values":[{"x":0.41,"x2":215000,"y":100}]},"mark":{"type":"rule","color":"#555","strokeWidth":1.6},"encoding":{"x2":{"field":"x2"}}},
{"data":{"values":[{"x":4000,"y":-2,"y2":264}]},"mark":{"type":"rule","color":"#555","strokeWidth":1.6},"encoding":{"y2":{"field":"y2"}}},
{"data":{"values":[{"x":0.73,"y":248,"t":"Q1"},{"x":0.73,"y":229,"t":"0"},{"x":0.73,"y":33,"t":"Q4"},{"x":0.73,"y":15,"t":"94,6"}]},"mark":{"type":"text","align":"left"},"encoding":{"text":{"field":"t"}}},
{"data":{"values":[{"x":85000,"y":248,"t":"Q2"},{"x":85000,"y":229,"t":"0"},{"x":85000,"y":33,"t":"Q3"},{"x":85000,"y":15,"t":"5,44"}]},"mark":{"type":"text","align":"right"},"encoding":{"text":{"field":"t"}}},
{"data":{"values":[{"x":2.2,"y":182,"t":"RSL3"},{"x":2.2,"y":154,"t":"Ferro-1"}]},"mark":{"type":"text","align":"left","fontStyle":"italic","fontSize":12,"color":"#00b050"},"encoding":{"text":{"field":"t"}}}
]}
]},
{"spacing":3,"hconcat":[
{"width":130,"height":130,"encoding":{"x":{"field":"x","type":"quantitative","title":"Comp-PE-A :: PI PE-A","scale":{"type":"symlog","constant":0.55,"domain":[0.41,215000],"nice":false,"zero":false},"axis":{"values":[1,2,3,4,5,6,7,8,9,10,20,30,40,50,60,70,80,90,100,200,300,400,500,600,700,800,900,1000,2000,3000,4000,5000,6000,7000,8000,9000,10000,20000,30000,40000,50000,60000,70000,80000,90000,100000],"tickSize":{"condition":{"test":"indexof([1,10,100,1000,10000,100000],datum.value)>=0","value":3},"value":1.5},"labelExpr":"datum.value==1?'10⁰':datum.value==10?'10¹':datum.value==100?'10²':datum.value==1000?'10³':datum.value==10000?'10⁴':datum.value==100000?'10⁵':''"}},"y":{"field":"y","type":"quantitative","title":"FSC-H :: FSC-H","scale":{"domain":[-2,264],"nice":false,"zero":false},"axis":{"values":[0,50,100,150,200,250],"labelExpr":"datum.value==0?'0':datum.value+'K'"}}},
"layer":[
{"data":{"name":"fac"},"mark":"square","encoding":{"color":{"field":"d","type":"quantitative"},"size":{"field":"d","type":"quantitative"},"order":{"field":"d"}}},
{"data":{"values":[{"x":0.41,"x2":215000,"y":100}]},"mark":{"type":"rule"},"encoding":{"x2":{"field":"x2"}}},
{"data":{"values":[{"x":3700,"y":-2,"y2":264}]},"mark":{"type":"rule","color":"#555","strokeWidth":1.6},"encoding":{"y2":{"field":"y2"}}},
{"data":{"values":[{"x":0.73,"y":248,"t":"Q1"},{"x":0.73,"y":229,"t":"0"},{"x":0.73,"y":33,"t":"Q4"},{"x":0.73,"y":15,"t":"22,0"}]},"mark":{"type":"text","align":"left"},"encoding":{"text":{"field":"t"}}},
{"data":{"values":[{"x":85000,"y":248,"t":"Q2"},{"x":85000,"y":229,"t":"0"},{"x":85000,"y":33,"t":"Q3"},{"x":85000,"y":15,"t":"78,0"}]},"mark":{"type":"text","align":"right"},"encoding":{"text":{"field":"t"}}},
{"data":{"values":[{"x":1.3,"y":191,"t":"FAC"}]},"mark":{"type":"text","align":"left","fontStyle":"italic","fontSize":12,"color":"#ff1a1a"},"encoding":{"text":{"field":"t"}}}
]},
{"width":130,"height":130,"encoding":{"x":{"field":"x","type":"quantitative","title":"Comp-PE-A :: PI PE-A","scale":{"type":"symlog","constant":0.55,"domain":[0.41,215000],"nice":false,"zero":false},"axis":{"values":[1,2,3,4,5,6,7,8,9,10,20,30,40,50,60,70,80,90,100,200,300,400,500,600,700,800,900,1000,2000,3000,4000,5000,6000,7000,8000,9000,10000,20000,30000,40000,50000,60000,70000,80000,90000,100000],"tickSize":{"condition":{"test":"indexof([1,10,100,1000,10000,100000],datum.value)>=0","value":3},"value":1.5},"labelExpr":"datum.value==1?'10⁰':datum.value==10?'10¹':datum.value==100?'10²':datum.value==1000?'10³':datum.value==10000?'10⁴':datum.value==100000?'10⁵':''"}},"y":{"field":"y","type":"quantitative","title":"FSC-H :: FSC-H","scale":{"domain":[-2,264],"nice":false,"zero":false},"axis":{"values":[0,50,100,150,200,250],"labelExpr":"datum.value==0?'0':datum.value+'K'"}}},
"layer":[
{"data":{"name":"faf"},"mark":"square","encoding":{"color":{"field":"d","type":"quantitative"},"size":{"field":"d","type":"quantitative"},"order":{"field":"d"}}},
{"data":{"values":[{"x":0.41,"x2":215000,"y":100}]},"mark":{"type":"rule"},"encoding":{"x2":{"field":"x2"}}},
{"data":{"values":[{"x":4000,"y":-2,"y2":264}]},"mark":{"type":"rule"},"encoding":{"y2":{"field":"y2"}}},
{"data":{"values":[{"x":0.73,"y":248,"t":"Q1"},{"x":0.73,"y":229,"t":"0"},{"x":0.73,"y":33,"t":"Q4"},{"x":0.73,"y":15,"t":"94,9"}]},"mark":{"type":"text","align":"left"},"encoding":{"text":{"field":"t"}}},
{"data":{"values":[{"x":85000,"y":248,"t":"Q2"},{"x":85000,"y":229,"t":"0"},{"x":85000,"y":33,"t":"Q3"},{"x":85000,"y":15,"t":"5,14"}]},"mark":{"type":"text","align":"right"},"encoding":{"text":{"field":"t"}}},
{"data":{"values":[{"x":2.2,"y":188,"t":"FAC"},{"x":2.2,"y":158,"t":"Ferro-1"}]},"mark":{"type":"text","align":"left","fontStyle":"italic","fontSize":12,"color":"#00b050"},"encoding":{"text":{"field":"t"}}}
]}
]}
]}
]}
